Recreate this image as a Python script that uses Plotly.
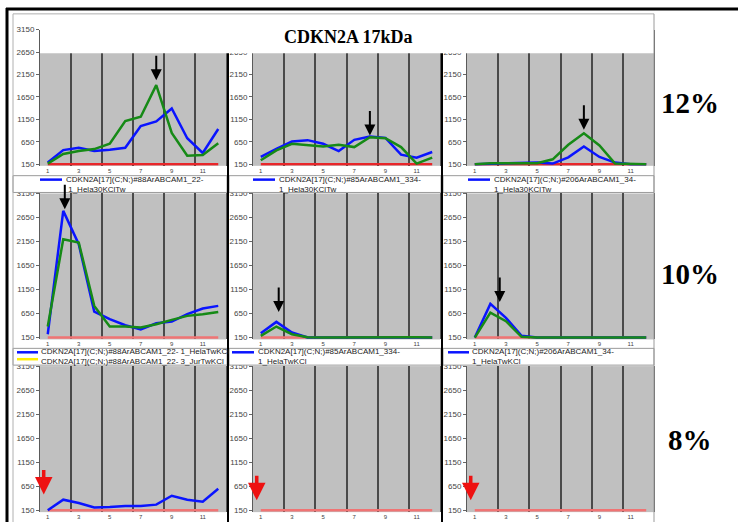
import plotly.graph_objects as go

W, H = 738, 525

# fraction index on the x axis and the shared tick sets
fractions = [1, 2, 3, 4, 5, 6, 7, 8, 9, 10, 11, 12]
x_ticks = [1, 3, 5, 7, 9, 11]
y_ticks = [150, 650, 1150, 1650, 2150, 2650, 3150]
lane_edges = [2.5, 4.5, 6.5, 8.5, 10.5]
baseline = [150, 150, 150, 150, 150, 150, 150, 150, 150, 150, 150, 150]

# 12 % gel
p12_a_blue = [187, 466, 517, 444, 473, 517, 1003, 1105, 1392, 730, 400, 936]
p12_a_green = [165, 378, 444, 488, 606, 1113, 1208, 1914, 848, 341, 356, 620]
p12_b_blue = [312, 495, 657, 687, 606, 444, 694, 767, 738, 363, 297, 422]
p12_b_green = [238, 459, 606, 584, 547, 584, 532, 753, 731, 532, 165, 297]
p12_c_blue = [150, 160, 180, 187, 187, 165, 304, 547, 312, 187, 150, 150]
p12_c_green = [150, 172, 172, 165, 172, 260, 584, 841, 569, 165, 150, 150]

# 10 % gel
p10_a_blue = [219, 2787, 2093, 691, 532, 407, 317, 448, 483, 636, 754, 809]
p10_a_green = [379, 2197, 2128, 809, 379, 379, 358, 428, 518, 601, 636, 684]
p10_b_blue = [240, 476, 254, 152, 150, 150, 150, 150, 150, 150, 150, 150]
p10_b_green = [185, 379, 219, 155, 150, 152, 160, 155, 150, 152, 155, 150]
p10_c_blue = [150, 850, 560, 185, 150, 150, 150, 150, 150, 150, 150, 150]
p10_c_green = [150, 670, 490, 164, 150, 150, 152, 150, 150, 150, 150, 150]

# 8 % gel
p8_a_blue = [150, 369, 301, 205, 218, 239, 239, 266, 451, 369, 328, 595]

BLUE = "#0a14ff"
GREEN = "#168a16"
RED_STRONG = "#e8262a"
RED_SOFT = "#f07474"

col_px = [(40, 226), (253, 440), (467, 654)]
row_px = [(26, 164, 115), (192, 340, 110), (367, 515, 110)]

panels = [
    (0, 0, [(p12_a_blue, BLUE), (p12_a_green, GREEN)], RED_STRONG),
    (0, 1, [(p12_b_blue, BLUE), (p12_b_green, GREEN)], RED_STRONG),
    (0, 2, [(p12_c_blue, BLUE), (p12_c_green, GREEN)], RED_STRONG),
    (1, 0, [(p10_a_blue, BLUE), (p10_a_green, GREEN)], RED_SOFT),
    (1, 1, [(p10_b_blue, BLUE), (p10_b_green, GREEN)], RED_SOFT),
    (1, 2, [(p10_c_blue, BLUE), (p10_c_green, GREEN)], RED_SOFT),
    (2, 0, [(p8_a_blue, BLUE)], RED_SOFT),
    (2, 1, [], RED_SOFT),
    (2, 2, [], RED_SOFT),
]

fig = go.Figure()
layout_axes = {}
for k, (r, c, series, red) in enumerate(panels, start=1):
    sx = "" if k == 1 else str(k)
    xa, ya = "x" + sx, "y" + sx
    fig.add_trace(go.Scatter(x=fractions, y=baseline, mode="lines",
                             line=dict(color=red, width=2.5),
                             xaxis=xa, yaxis=ya, showlegend=False, hoverinfo="skip"))
    for vals, colr in series:
        fig.add_trace(go.Scatter(x=fractions, y=vals, mode="lines",
                                 line=dict(color=colr, width=2.5),
                                 xaxis=xa, yaxis=ya, showlegend=False))
    l, rr = col_px[c]
    t, b, floor = row_px[r]
    layout_axes["xaxis" + sx] = dict(
        domain=[l / W, rr / W], range=[0.5, 12.5], anchor=ya,
        tickvals=x_ticks, ticks="", showgrid=False, zeroline=False, showline=False,
        tickfont=dict(size=6, color="#444", family="Liberation Sans"),
        minor=dict(tickvals=lane_edges, showgrid=True, gridcolor="#4a4a4a",
                   gridwidth=1.5, ticks=""),
    )
    layout_axes["yaxis" + sx] = dict(
        domain=[1 - b / H, 1 - t / H], range=[floor, 3150], anchor=xa,
        tickvals=y_ticks, ticks="outside", ticklen=3, tickcolor="#666",
        showgrid=False, zeroline=False, showline=True, linecolor="#5a5a5a",
        linewidth=1, mirror=True,
        tickfont=dict(size=8, color="#444", family="Liberation Sans"),
    )

shapes = []


def hline(y, x0, x1, color, width):
    shapes.append(dict(type="line", xref="paper", yref="paper",
                       x0=x0 / W, x1=x1 / W, y0=1 - y / H, y1=1 - y / H,
                       line=dict(color=color, width=width), layer="above"))


def vline(x, y0, y1, color, width):
    shapes.append(dict(type="line", xref="paper", yref="paper",
                       x0=x / W, x1=x / W, y0=1 - y0 / H, y1=1 - y1 / H,
                       line=dict(color=color, width=width), layer="above"))


def box(x0, x1, y0, y1, border):
    shapes.append(dict(type="rect", xref="paper", yref="paper",
                       x0=x0 / W, x1=x1 / W, y0=1 - y1 / H, y1=1 - y0 / H,
                       fillcolor="white",
                       line=dict(color=border, width=1 if border else 0),
                       layer="above"))


# title strip over the top of the first row
box(40, 654, 10, 50, None)
hline(10, 13, 654, "#b0b0b0", 1)

# legend strips between the rows
for y0, y1 in [(174, 191), (349, 366)]:
    for x0, x1 in [(13, 227), (229, 441), (443, 654)]:
        box(x0, x1, y0, y1, "#9a9a9a")

# thin frame lines and black separators
vline(13, 10, 525, "#b0b0b0", 1)
vline(654, 10, 525, "#9a9a9a", 1)
hline(5, 6, 738, "black", 3)
vline(7, 4, 525, "black", 3)
vline(228, 50, 525, "black", 2)
vline(442, 50, 525, "black", 2)

# legend swatches
swatches = [
    (40, 62, 178, BLUE), (253, 275, 178, BLUE), (468, 490, 178, BLUE),
    (17, 38, 353, BLUE), (17, 38, 360, "#ffee00"),
    (232, 254, 353, BLUE), (448, 469, 353, BLUE),
]
for x0, x1, y, colr in swatches:
    hline(y, x0, x1, colr, 2.5)

annotations = []


def label(x, y, text, size, family="Liberation Sans", color="#222",
          bold=False, xanchor="left"):
    annotations.append(dict(
        xref="paper", yref="paper", x=x / W, y=1 - y / H,
        text=f"<b>{text}</b>" if bold else text, showarrow=False,
        xanchor=xanchor, yanchor="middle", align="left",
        font=dict(size=size, family=family, color=color)))


legend_texts = [
    (64, 182.5, "CDKN2A[17](C;N;)#88ArABCAM1_22-<br> 1_Hela30KClTw"),
    (277, 182.5, "CDKN2A[17](C;N;)#85ArABCAM1_334-<br>1_Hela30KClTw"),
    (492, 182.5, "CDKN2A[17](C;N;)#206ArABCAM1_34-<br>1_Hela30KClTw"),
    (39, 357, "CDKN2A[17](C;N;)#88ArABCAM1_22- 1_HelaTwKCl<br>"
              "CDKN2A[17](C;N;)#88ArABCAM1_22- 3_JurTwKCl"),
    (256, 357, "CDKN2A[17](C;N;)#85ArABCAM1_334-<br>1_HelaTwKCl"),
    (470, 357, "CDKN2A[17](C;N;)#206ArABCAM1_34-<br>1_HelaTwKCl"),
]
for x, y, txt in legend_texts:
    annotations.append(dict(
        xref="paper", yref="paper", x=x / W, y=1 - y / H, text=txt,
        showarrow=False, xanchor="left", yanchor="middle", align="left",
        font=dict(size=8, family="Liberation Sans", color="#222")))

label(348, 33, "CDKN2A 17kDa", 18, family="Liberation Serif", color="black",
      bold=True, xanchor="center")
for y, txt in [(100, "12%"), (274, "10%"), (442, "8%")]:
    label(690, y, txt, 29, family="Liberation Serif", color="black",
          bold=True, xanchor="center")

# peak markers (panel index, x, tip y, colour)
markers = [
    (1, 8, 2020, "black"), (2, 8, 788, "black"), (3, 8, 920, "black"),
    (4, 2.1, 2821, "black"), (5, 2.15, 684, "black"), (6, 2.6, 890, "black"),
    (7, 0.74, 479, "#ee1111"), (8, 0.74, 355, "#ee1111"), (9, 0.74, 355, "#ee1111"),
]
for k, x, y, colr in markers:
    sx = "" if k == 1 else str(k)
    red = colr != "black"
    annotations.append(dict(
        xref="x" + sx, yref="y" + sx, x=x, y=y, text="", showarrow=True,
        ax=0, ay=-26, axref="pixel", ayref="pixel",
        arrowhead=2, arrowsize=1.0 if red else 1.1,
        arrowwidth=3.5 if red else 2, arrowcolor=colr, standoff=0))

fig.update_layout(
    width=W, height=H, margin=dict(l=0, r=0, t=0, b=0),
    paper_bgcolor="white", plot_bgcolor="#c0c0c0",
    showlegend=False, shapes=shapes, annotations=annotations,
    **layout_axes,
)

fig.write_html("out.html")
